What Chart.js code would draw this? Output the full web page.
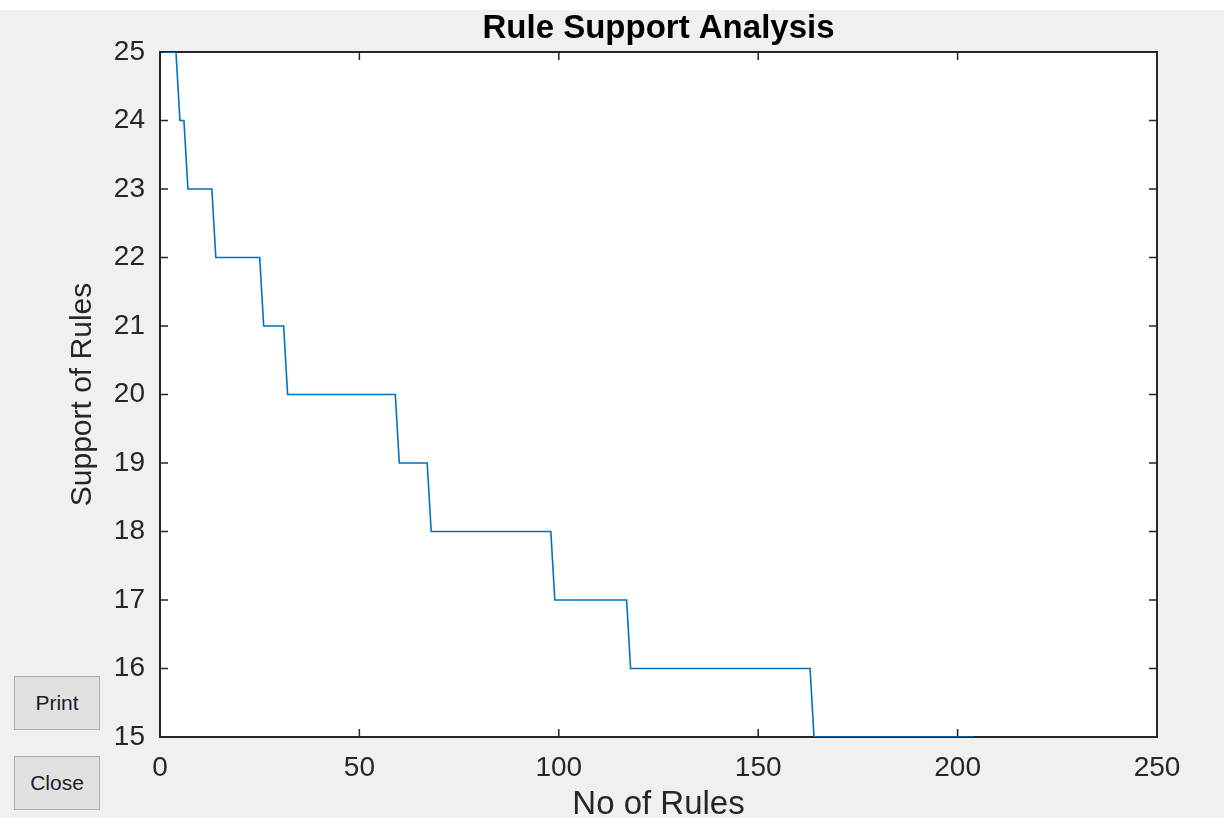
<!DOCTYPE html>
<html>
<head>
<meta charset="utf-8">
<script src="https://cdn.jsdelivr.net/npm/chart.js@4.4.1/dist/chart.umd.min.js"></script>
<style>
  html, body { margin: 0; padding: 0; background: #f0f0f0; overflow: hidden; }
  #wrap { position: relative; width: 1224px; height: 818px; }
  canvas { position: absolute; left: 0; top: 0; }
  .btn {
    position: absolute; left: 14px; width: 86px; height: 54px;
    background: #e1e1e1; border: 1px solid #adadad; box-sizing: border-box;
    font-family: "Liberation Sans", Arial, sans-serif; font-size: 21px; color: #1b1b2a;
    display: flex; align-items: center; justify-content: center;
  }
</style>
</head>
<body>
<div id="wrap">
  <canvas id="c" width="1224" height="818"></canvas>
  <div class="btn" style="top:676px;">Print</div>
  <div class="btn" style="top:756px;">Close</div>
</div>
<script>
// ---- data ----
const ruleIndex      = [1, 4, 5, 6, 7, 13, 14, 25, 26, 31, 32, 59, 60, 67, 68, 98, 99, 117, 118, 163, 164, 204];
const supportValues  = [25, 25, 24, 24, 23, 23, 22, 22, 21, 21, 20, 20, 19, 19, 18, 18, 17, 17, 16, 16, 15, 15];
const xTickValues    = [0, 50, 100, 150, 200, 250];
const yTickValues    = [15, 16, 17, 18, 19, 20, 21, 22, 23, 24, 25];
const chartTitle     = 'Rule Support Analysis';
const xAxisTitle     = 'No of Rules';
const yAxisTitle     = 'Support of Rules';

const points = ruleIndex.map((x, i) => ({ x: x, y: supportValues[i] }));
const FONT = '"Liberation Sans", Arial, Helvetica, sans-serif';
const AXIS_COLOR = '#262626';

const backgroundPlugin = {
  id: 'bg',
  beforeDraw(chart) {
    const { ctx, chartArea: a } = chart;
    ctx.save();
    ctx.fillStyle = '#f0f0f0';
    ctx.fillRect(0, 0, chart.width, chart.height);
    ctx.fillStyle = '#ffffff';
    ctx.fillRect(0, 0, chart.width, 10);
    ctx.fillRect(a.left, a.top, a.right - a.left, a.bottom - a.top);
    ctx.restore();
  }
};

// box outline, inward ticks on all four sides, and the title centred over the axes
const boxTicksPlugin = {
  id: 'boxTicks',
  beforeDatasetsDraw(chart) {
    const { ctx, chartArea: a, scales } = chart;
    const len = 8;
    ctx.save();
    ctx.strokeStyle = AXIS_COLOR;
    ctx.lineWidth = 1.5;
    ctx.beginPath();
    scales.x.ticks.forEach(t => {
      const px = scales.x.getPixelForValue(t.value);
      ctx.moveTo(px, a.bottom); ctx.lineTo(px, a.bottom - len);
      ctx.moveTo(px, a.top); ctx.lineTo(px, a.top + len);
    });
    scales.y.ticks.forEach(t => {
      const py = scales.y.getPixelForValue(t.value);
      ctx.moveTo(a.left, py); ctx.lineTo(a.left + len, py);
      ctx.moveTo(a.right, py); ctx.lineTo(a.right - len, py);
    });
    ctx.stroke();
    ctx.lineWidth = 2;
    ctx.strokeRect(a.left, a.top, a.right - a.left, a.bottom - a.top);

    ctx.fillStyle = '#000000';
    ctx.font = 'bold 33px ' + FONT;
    ctx.textAlign = 'center';
    ctx.textBaseline = 'middle';
    ctx.fillText(chartTitle, (a.left + a.right) / 2, 29);
    ctx.restore();
  }
};

new Chart(document.getElementById('c'), {
  type: 'line',
  data: {
    datasets: [{
      data: points,
      borderColor: '#0072BD',
      borderWidth: 1.6,
      pointRadius: 0,
      tension: 0,
      fill: false
    }]
  },
  options: {
    responsive: false,
    animation: false,
    events: [],
    layout: { padding: { left: 0, right: 67, top: 52, bottom: 0 } },
    plugins: {
      legend: { display: false },
      tooltip: { enabled: false },
      title: { display: false }
    },
    scales: {
      x: {
        type: 'linear',
        min: 0, max: 250,
        afterBuildTicks(s) { s.ticks = xTickValues.map(v => ({ value: v })); },
        afterFit(s) { s.height = 81; },
        grid: { display: false, drawTicks: false },
        border: { display: false },
        ticks: {
          color: AXIS_COLOR,
          padding: 14,
          font: { family: FONT, size: 28, lineHeight: 1.2 },
          maxRotation: 0,
          autoSkip: false
        },
        title: {
          display: true,
          text: xAxisTitle,
          color: AXIS_COLOR,
          font: { family: FONT, size: 33, lineHeight: 1.2 },
          padding: { top: 0, bottom: -7 }
        }
      },
      y: {
        type: 'linear',
        min: 15, max: 25,
        afterBuildTicks(s) { s.ticks = yTickValues.map(v => ({ value: v })); },
        afterFit(s) { s.width = 160; },
        grid: { display: false, drawTicks: false },
        border: { display: false },
        ticks: {
          color: AXIS_COLOR,
          padding: 15,
          font: { family: FONT, size: 28, lineHeight: 1.2 },
          autoSkip: false
        },
        title: {
          display: true,
          text: yAxisTitle,
          color: AXIS_COLOR,
          font: { family: FONT, size: 30, lineHeight: 1.2 },
          padding: { top: 65, bottom: 0 }
        }
      }
    }
  },
  plugins: [backgroundPlugin, boxTicksPlugin]
});
</script>
</body>
</html>
